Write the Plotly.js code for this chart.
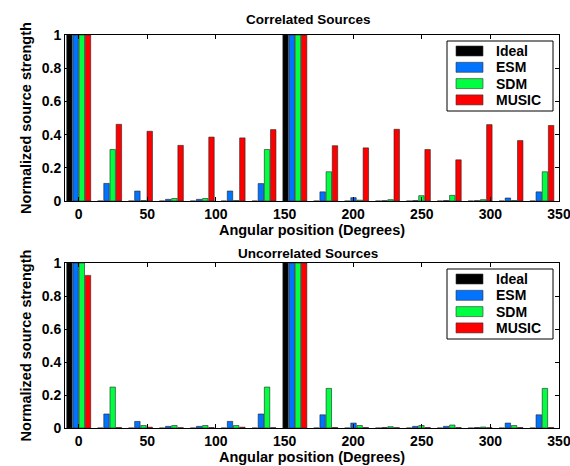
<!DOCTYPE html>
<html>
<head>
<meta charset="utf-8">
<script src="https://cdn.plot.ly/plotly-3.0.1.min.js"></script>
<style>html,body{margin:0;padding:0;background:#fff;}#chart{width:570px;height:466px;}</style>
</head>
<body>
<div id="chart"></div>
<script>
const angles = [0, 22.5, 45, 67.5, 90, 112.5, 135, 157.5, 180, 202.5, 225, 247.5, 270, 292.5, 315, 337.5];
const seriesNames = ["Ideal", "ESM", "SDM", "MUSIC"];
const seriesColors = ["#000000", "#0073ff", "#00ff40", "#ff0000"];

// Correlated Sources
const corrIdeal = [1, 0, 0, 0, 0, 0, 0, 1, 0, 0, 0, 0, 0, 0, 0, 0];
const corrESM   = [1, 0.106, 0.06, 0.01, 0.01, 0.06, 0.105, 1, 0.055, 0.02, 0.002, 0.003, 0.003, 0.002, 0.018, 0.055];
const corrSDM   = [1, 0.31, 0.003, 0.015, 0.015, 0.003, 0.31, 1, 0.176, 0.005, 0.008, 0.032, 0.034, 0.008, 0.003, 0.176];
const corrMUSIC = [1, 0.462, 0.42, 0.335, 0.385, 0.38, 0.43, 1, 0.333, 0.32, 0.432, 0.31, 0.248, 0.46, 0.364, 0.455];

// Uncorrelated Sources
const uncIdeal = [1, 0, 0, 0, 0, 0, 0, 1, 0, 0, 0, 0, 0, 0, 0, 0];
const uncESM   = [1, 0.085, 0.04, 0.01, 0.01, 0.04, 0.085, 1, 0.08, 0.03, 0.003, 0.01, 0.01, 0.003, 0.03, 0.08];
const uncSDM   = [1, 0.248, 0.015, 0.015, 0.015, 0.015, 0.248, 1, 0.24, 0.015, 0.008, 0.015, 0.018, 0.006, 0.015, 0.24];
const uncMUSIC = [0.925, 0.003, 0.005, 0.002, 0.003, 0.005, 0.002, 1, 0.003, 0.003, 0.002, 0.003, 0.003, 0.002, 0.003, 0.003];

const xTickVals = [0, 50, 100, 150, 200, 250, 300, 350];
const yTickVals = [0, 0.2, 0.4, 0.6, 0.8, 1];
const yTickText = ["0", "0.2", "0.4", "0.6", "0.8", "1"];

const corrData = [corrIdeal, corrESM, corrSDM, corrMUSIC];
const uncData = [uncIdeal, uncESM, uncSDM, uncMUSIC];

const traces = [];
corrData.forEach((vals, i) => {
  traces.push({type: "bar", x: angles, y: vals, name: seriesNames[i], xaxis: "x", yaxis: "y", showlegend: false,
    marker: {color: seriesColors[i], line: {color: "#222", width: 0.6}}});
});
uncData.forEach((vals, i) => {
  traces.push({type: "bar", x: angles, y: vals, name: seriesNames[i], xaxis: "x2", yaxis: "y2", showlegend: false,
    marker: {color: seriesColors[i], line: {color: "#222", width: 0.6}}});
});

const FAM = "Liberation Sans, Arial, sans-serif";
const fnt = {family: FAM, size: 14, color: "#000", weight: 700};
const H = 466, W = 570;
const py = v => 1 - v / H;
const px = v => v / W;

function xax(anchor, domain) {
  return {domain: domain, anchor: anchor, range: [-10, 350], tickvals: xTickVals, ticktext: xTickVals.map(String),
    ticks: "inside", ticklen: 4, tickcolor: "#000", mirror: "ticks", showline: true, linecolor: "#000", linewidth: 1,
    showgrid: false, zeroline: false, tickfont: fnt, ticklabeloverflow: "allow",
    title: {text: "Angular position (Degrees)", font: {family: FAM, size: 14.5, color: "#000", weight: 700}, standoff: 1}};
}
function yax(anchor, domain) {
  return {domain: domain, anchor: anchor, range: [0, 1], tickvals: yTickVals, ticktext: yTickText,
    ticks: "inside", ticklen: 4, tickcolor: "#000", mirror: "ticks", showline: true, linecolor: "#000", linewidth: 1,
    showgrid: false, zeroline: false, tickfont: fnt, ticklabeloverflow: "allow",
    title: {text: "Normalized source strength", font: {family: FAM, size: 14.5, color: "#000", weight: 700}, standoff: 6}};
}

// custom MATLAB-style legends
const shapes = [];
const annotations = [
  {text: "Correlated Sources", x: px(308), y: py(20), xref: "paper", yref: "paper", xanchor: "center", yanchor: "middle",
    showarrow: false, font: {family: FAM, size: 13.5, color: "#000", weight: 700}},
  {text: "Uncorrelated Sources", x: px(308), y: py(253), xref: "paper", yref: "paper", xanchor: "center", yanchor: "middle",
    showarrow: false, font: {family: FAM, size: 13.5, color: "#000", weight: 700}}
];
[41, 269].forEach(top => {
  shapes.push({type: "rect", xref: "paper", yref: "paper", x0: px(447), x1: px(553), y0: py(top), y1: py(top + 70),
    line: {color: "#000", width: 1}, fillcolor: "#fff", layer: "above"});
  seriesNames.forEach((nm, i) => {
    const cy = top + 10 + i * 16.3;
    shapes.push({type: "rect", xref: "paper", yref: "paper", x0: px(456), x1: px(483), y0: py(cy - 5), y1: py(cy + 5),
      line: {color: "#333", width: 0.6}, fillcolor: seriesColors[i], layer: "above"});
    annotations.push({text: nm, xref: "paper", yref: "paper", x: px(494), y: py(cy), xanchor: "left", yanchor: "middle",
      showarrow: false, font: {family: FAM, size: 14, color: "#000", weight: 700}});
  });
});

const layout = {
  width: W, height: H,
  margin: {l: 0, r: 0, t: 0, b: 0},
  paper_bgcolor: "#fff", plot_bgcolor: "#fff",
  barmode: "group", bargap: 0.2, bargroupgap: 0.12,
  showlegend: false,
  xaxis: xax("y", [px(65), px(559)]),
  yaxis: yax("x", [py(201), py(35)]),
  xaxis2: xax("y2", [px(65), px(559)]),
  yaxis2: yax("x2", [py(428), py(263)]),
  shapes: shapes,
  annotations: annotations
};

Plotly.newPlot("chart", traces, layout, {displayModeBar: false, staticPlot: true});
</script>
</body>
</html>
